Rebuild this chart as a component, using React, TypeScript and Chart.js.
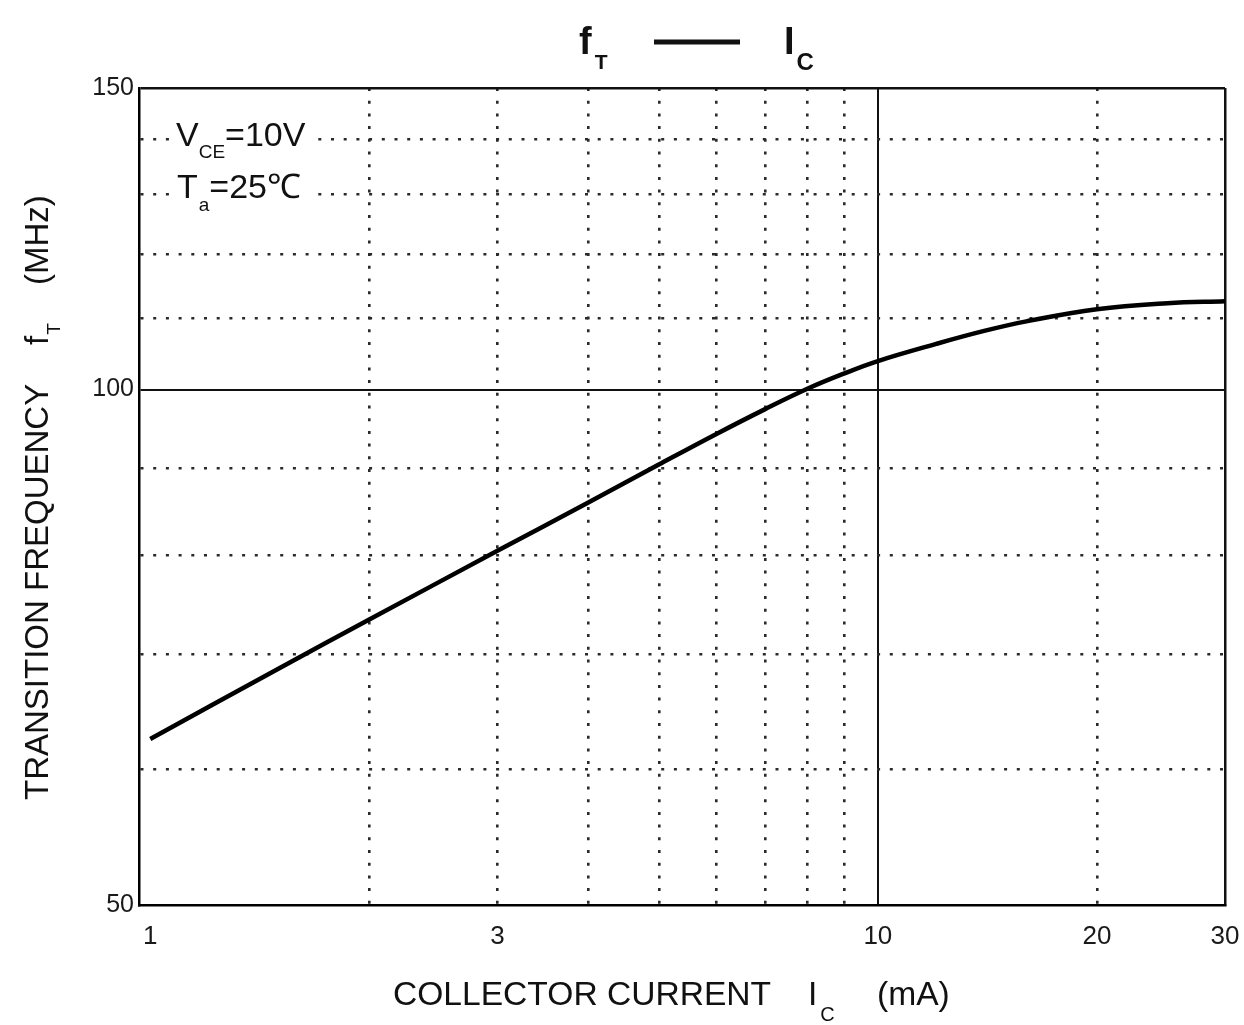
import React, { useEffect, useRef } from 'react';
import { Chart, registerables } from 'chart.js';

Chart.register(...registerables);

// ---- data ----
const currentMA = [1, 1.5, 2, 3, 4, 5, 6, 7, 8, 9, 10, 12, 14, 16, 20, 25, 30];
const transitionMHz = [62.5, 68.7, 73.4, 80.5, 85.9, 90.4, 94.2, 97.4, 100.1, 102.2, 103.9, 106.3, 108.2, 109.6, 111.4, 112.3, 112.6];

const xTickValues = [1, 2, 3, 4, 5, 6, 7, 8, 9, 10, 20, 30];
const xTickLabels = ['1', '3', '10', '20', '30'];
const xSolidLines = [10, 30];
const xHiddenLines = [1];

const yTickValues = [50, 60, 70, 80, 90, 100, 110, 120, 130, 140, 150];
const yTickLabels = ['50', '100', '150'];
const ySolidLines = [100, 150];
const yHiddenLines = [50];

const FONT = "'Liberation Sans', Arial, Helvetica, sans-serif";
const DOT_DASH = [3, 9.7];

type Run = { text: string; size: number; bold?: boolean; dy?: number; gap?: number; at?: number };

function drawRuns(ctx: CanvasRenderingContext2D, x: number, y: number, runs: Run[]) {
  let cx = x;
  for (const r of runs) {
    if (r.at !== undefined) cx = r.at;
    cx += r.gap || 0;
    ctx.font = `${r.bold ? 'bold ' : ''}${r.size}px ${FONT}`;
    ctx.fillText(r.text, cx, y + (r.dy || 0));
    cx += ctx.measureText(r.text).width;
  }
}

const textPlugin = {
  id: 'datasheetTexts',
  afterDraw(chart: any) {
    const ctx: CanvasRenderingContext2D = chart.ctx;
    ctx.save();
    ctx.fillStyle = '#111';
    ctx.textAlign = 'left';
    ctx.textBaseline = 'alphabetic';

    // Title: f_T ——— I_C
    drawRuns(ctx, 579, 54, [
      { text: 'f', size: 38, bold: true },
      { text: 'T', size: 21, bold: true, dy: 15, gap: 3 },
    ]);
    ctx.strokeStyle = '#111';
    ctx.lineWidth = 5;
    ctx.beginPath();
    ctx.moveTo(654, 42);
    ctx.lineTo(740, 42);
    ctx.stroke();
    drawRuns(ctx, 784, 54, [
      { text: 'I', size: 38, bold: true },
      { text: 'C', size: 24, bold: true, dy: 16, gap: 2 },
    ]);

    // Annotation with white background
    ctx.fillStyle = '#fff';
    ctx.fillRect(170, 114, 142, 48);
    ctx.fillRect(170, 166, 145, 50);
    ctx.fillStyle = '#111';
    drawRuns(ctx, 176, 146, [
      { text: 'V', size: 34 },
      { text: 'CE', size: 19, dy: 12 },
      { text: '=10V', size: 34 },
    ]);
    drawRuns(ctx, 177, 198, [
      { text: 'T', size: 34 },
      { text: 'a', size: 19, dy: 13, gap: 1 },
      { text: '=25\u2103', size: 34 },
    ]);

    // X axis title
    drawRuns(ctx, 393, 1005, [
      { text: 'COLLECTOR CURRENT', size: 33.6 },
      { text: 'I', size: 33.6, at: 808 },
      { text: 'C', size: 20, dy: 16, gap: 3 },
      { text: '(mA)', size: 33.6, at: 877 },
    ]);

    // Y axis title (rotated)
    ctx.save();
    ctx.translate(48, 800);
    ctx.rotate(-Math.PI / 2);
    drawRuns(ctx, 0, 0, [{ text: 'TRANSITION FREQUENCY', size: 33 }]);
    drawRuns(ctx, 455, 0, [
      { text: 'f', size: 33 },
      { text: 'T', size: 19, dy: 12, gap: 1 },
    ]);
    drawRuns(ctx, 515, 0, [{ text: '(MHz)', size: 33 }]);
    ctx.restore();

    ctx.restore();
  },
};

function gridColor(v: number | undefined, solid: number[], hidden: number[]) {
  if (v === undefined) return '#000';
  if (hidden.includes(v)) return 'rgba(0,0,0,0)';
  if (solid.includes(v)) return '#111';
  return '#2a2a2a';
}

export default function App() {
  const ref = useRef<HTMLCanvasElement | null>(null);

  useEffect(() => {
    if (!ref.current) return;
    const points = currentMA.map((x, i) => ({ x, y: transitionMHz[i] }));
    const chart = new Chart(ref.current, {
      type: 'line',
      data: {
        datasets: [
          {
            data: points,
            borderColor: '#000',
            borderWidth: 4.5,
            pointRadius: 0,
            tension: 0.4,
            fill: false,
          },
        ],
      },
      plugins: [textPlugin],
      options: {
        animation: false,
        responsive: false,
        devicePixelRatio: 1,
        layout: { padding: { top: 88, right: 19, left: 0, bottom: 0 } },
        plugins: {
          legend: { display: false },
          title: { display: false },
          tooltip: { enabled: false },
        },
        scales: {
          x: {
            type: 'logarithmic',
            min: 0.965,
            max: 30,
            afterBuildTicks: (scale: any) => {
              scale.ticks = xTickValues.map((v) => ({ value: v }));
            },
            afterFit: (scale: any) => {
              scale.height = 120;
              scale.paddingLeft = 0;
              scale.paddingRight = 0;
            },
            ticks: {
              autoSkip: false,
              maxRotation: 0,
              padding: 16,
              color: '#1a1a1a',
              font: { family: FONT, size: 26 },
              callback: (value: any) => (xTickLabels.includes(String(value)) ? String(value) : ''),
            },
            grid: {
              drawTicks: false,
              color: (c: any) => gridColor(c.tick?.value, xSolidLines, xHiddenLines),
              lineWidth: (c: any) => {
                const v = c.tick?.value;
                if (v === 30) return 2.5;
                if (v === 10) return 2;
                return 2.6;
              },
            },
            border: {
              color: '#000',
              width: 2.5,
              dash: (c: any) => {
                const v = c.tick?.value;
                if (v === undefined || xSolidLines.includes(v) || xHiddenLines.includes(v)) return [];
                return DOT_DASH;
              },
            },
          },
          y: {
            type: 'logarithmic',
            min: 50,
            max: 150,
            afterBuildTicks: (scale: any) => {
              scale.ticks = yTickValues.map((v) => ({ value: v }));
            },
            afterFit: (scale: any) => {
              scale.width = 139;
              scale.paddingTop = 0;
              scale.paddingBottom = 0;
            },
            ticks: {
              autoSkip: false,
              padding: 5,
              color: '#1a1a1a',
              font: { family: FONT, size: 25 },
              callback: (value: any) => (yTickLabels.includes(String(value)) ? String(value) : ''),
            },
            grid: {
              drawTicks: false,
              color: (c: any) => gridColor(c.tick?.value, ySolidLines, yHiddenLines),
              lineWidth: (c: any) => {
                const v = c.tick?.value;
                if (v === 150) return 2.5;
                if (v === 100) return 2;
                return 2.6;
              },
            },
            border: {
              color: '#000',
              width: 2.5,
              dash: (c: any) => {
                const v = c.tick?.value;
                if (v === undefined || ySolidLines.includes(v) || yHiddenLines.includes(v)) return [];
                return DOT_DASH;
              },
            },
          },
        },
      } as any,
    });
    return () => chart.destroy();
  }, []);

  return (
    <div style={{ position: 'fixed', left: 0, top: 0, width: 1244, height: 1025, background: '#fff' }}>
      <canvas ref={ref} width={1244} height={1025} style={{ display: 'block', width: 1244, height: 1025 }} />
    </div>
  );
}
